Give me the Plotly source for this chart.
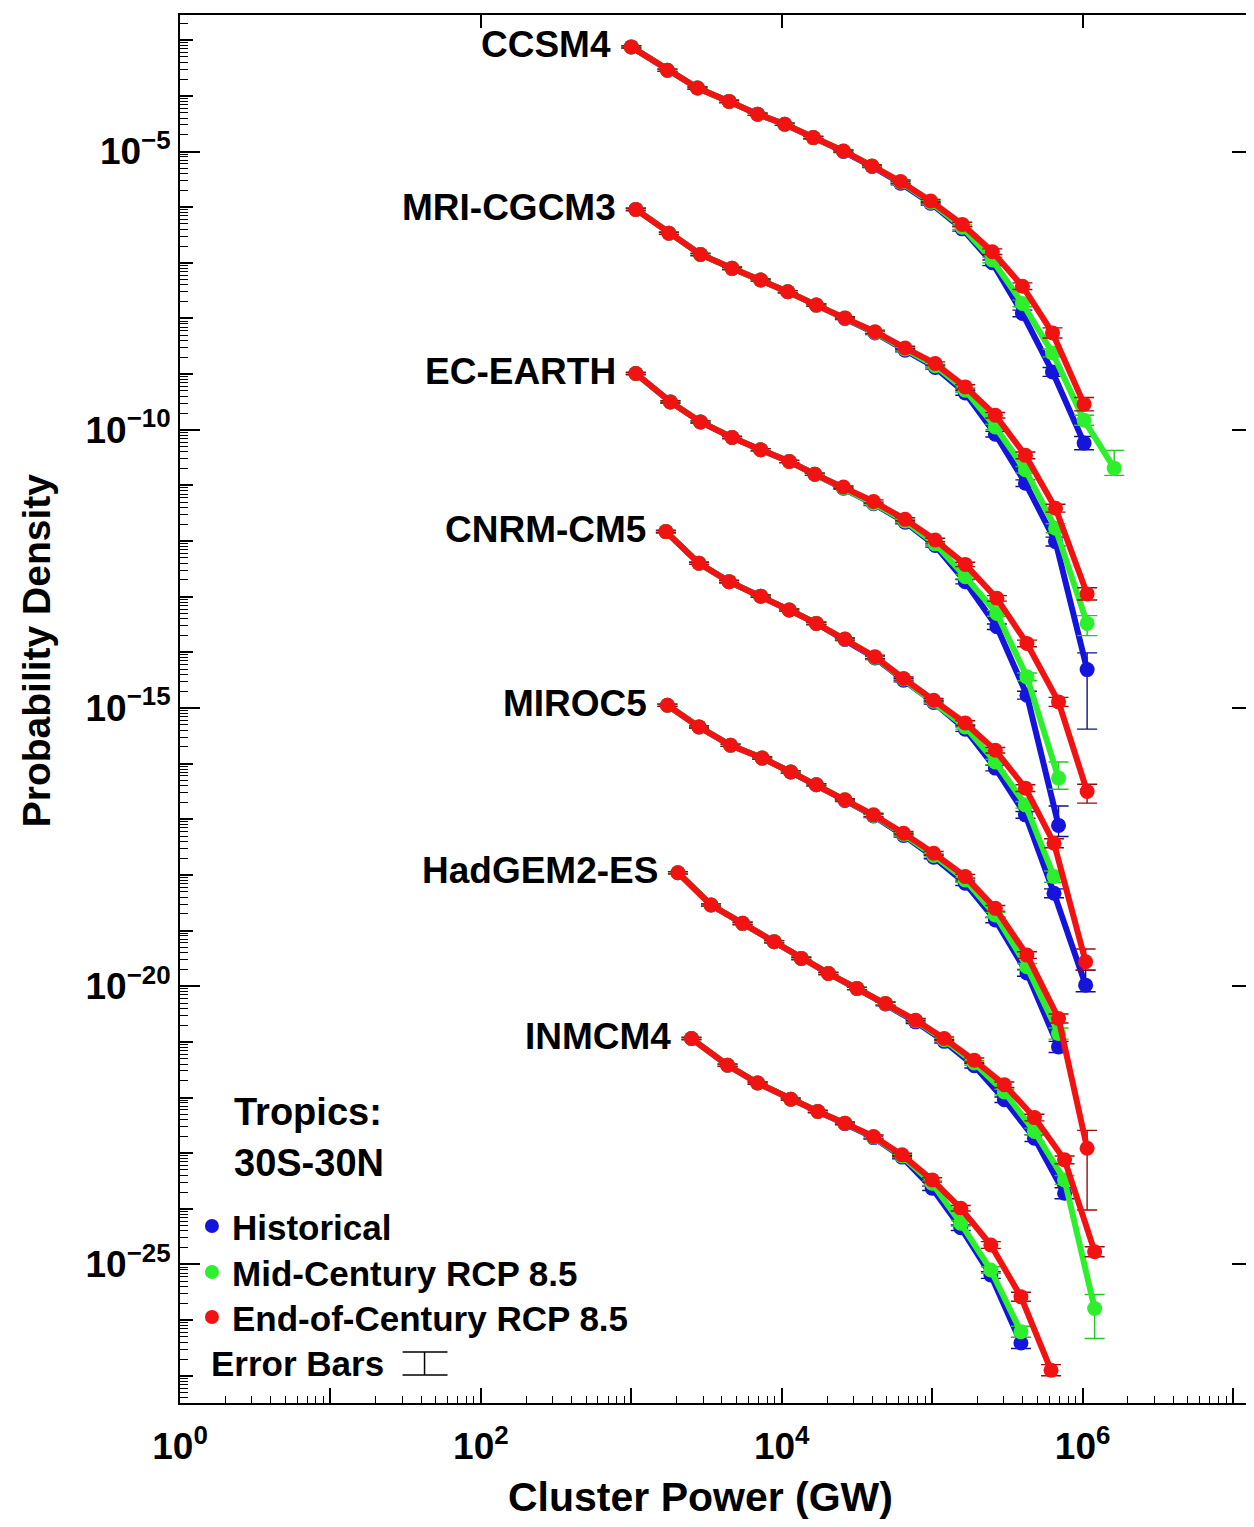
import numpy as np
import plotly.graph_objects as go

# ---------------- data (log10 values) ----------------
model_names = ["CCSM4", "MRI-CGCM3", "EC-EARTH", "CNRM-CM5", "MIROC5", "HadGEM2-ES", "INMCM4"]
scenario_names = ["Historical", "Mid-Century RCP 8.5", "End-of-Century RCP 8.5"]

# log10(cluster power, GW)
ccsm4_logx = [3.00, 3.24, 3.44, 3.65, 3.84, 4.02, 4.21, 4.41, 4.60, 4.79, 4.99, 5.20, 5.40, 5.60, 5.80, 6.01, 6.21]
mri_logx = [3.03, 3.25, 3.46, 3.67, 3.86, 4.04, 4.23, 4.42, 4.62, 4.82, 5.02, 5.22, 5.42, 5.62, 5.82, 6.03]
ec_logx = [3.03, 3.26, 3.46, 3.67, 3.86, 4.05, 4.22, 4.41, 4.61, 4.82, 5.02, 5.22, 5.43, 5.63, 5.84, 6.03]
cnrm_logx = [3.23, 3.45, 3.65, 3.86, 4.05, 4.23, 4.42, 4.62, 4.81, 5.01, 5.22, 5.42, 5.62, 5.81, 6.02]
miroc5_logx = [3.24, 3.45, 3.66, 3.87, 4.06, 4.23, 4.42, 4.61, 4.81, 5.01, 5.22, 5.42, 5.63, 5.84, 6.03]
hadgem_logx = [3.31, 3.53, 3.74, 3.95, 4.13, 4.31, 4.50, 4.69, 4.89, 5.08, 5.28, 5.48, 5.68, 5.88, 6.08]
inmcm4_logx = [3.40, 3.64, 3.84, 4.06, 4.24, 4.42, 4.61, 4.80, 5.00, 5.19, 5.39, 5.59, 5.79]

# log10(probability density) as plotted (curves offset per model)
ccsm4_hist = [-3.12, -3.54, -3.86, -4.10, -4.33, -4.51, -4.75, -5.00, -5.27, -5.57, -5.93, -6.39, -7.00, -7.91, -8.96, -10.24]
ccsm4_mid = [-3.12, -3.54, -3.86, -4.10, -4.33, -4.51, -4.75, -4.99, -5.26, -5.55, -5.91, -6.36, -6.95, -7.73, -8.62, -9.83, -10.69]
ccsm4_end = [-3.12, -3.54, -3.86, -4.10, -4.33, -4.51, -4.75, -4.99, -5.26, -5.54, -5.89, -6.31, -6.80, -7.42, -8.26, -9.54]

mri_hist = [-6.04, -6.47, -6.85, -7.10, -7.31, -7.52, -7.76, -8.00, -8.26, -8.57, -8.88, -9.34, -10.08, -10.96, -12.01, -14.31]
mri_mid = [-6.04, -6.47, -6.85, -7.10, -7.31, -7.52, -7.76, -7.99, -8.25, -8.55, -8.85, -9.29, -9.95, -10.72, -11.77, -13.48]
mri_end = [-6.04, -6.47, -6.85, -7.10, -7.31, -7.52, -7.76, -7.99, -8.24, -8.53, -8.81, -9.23, -9.74, -10.46, -11.41, -12.95]

ec_hist = [-8.99, -9.50, -9.86, -10.14, -10.36, -10.57, -10.80, -11.05, -11.33, -11.66, -12.08, -12.73, -13.54, -14.77, -17.11]
ec_mid = [-8.99, -9.50, -9.86, -10.14, -10.36, -10.57, -10.80, -11.04, -11.32, -11.64, -12.05, -12.64, -13.30, -14.44, -16.26]
ec_end = [-8.99, -9.50, -9.86, -10.14, -10.36, -10.57, -10.80, -11.03, -11.29, -11.61, -11.98, -12.42, -13.03, -13.84, -14.89, -16.50]

cnrm_hist = [-11.83, -12.40, -12.73, -12.99, -13.24, -13.48, -13.77, -14.10, -14.50, -14.90, -15.38, -16.08, -16.92, -18.33, -19.98]
cnrm_mid = [-11.83, -12.40, -12.73, -12.99, -13.24, -13.48, -13.76, -14.09, -14.48, -14.88, -15.34, -15.97, -16.74, -18.03]
cnrm_end = [-11.83, -12.40, -12.73, -12.99, -13.24, -13.48, -13.76, -14.08, -14.47, -14.86, -15.27, -15.76, -16.44, -17.43, -19.56]

miroc5_hist = [-14.95, -15.34, -15.67, -15.90, -16.15, -16.38, -16.66, -16.94, -17.29, -17.68, -18.15, -18.81, -19.76, -21.09]
miroc5_mid = [-14.95, -15.34, -15.67, -15.90, -16.15, -16.38, -16.65, -16.93, -17.27, -17.65, -18.09, -18.72, -19.65, -20.85]
miroc5_end = [-14.95, -15.34, -15.67, -15.90, -16.15, -16.38, -16.65, -16.92, -17.25, -17.61, -18.03, -18.60, -19.44, -20.58, -22.91]

hadgem_hist = [-17.96, -18.54, -18.87, -19.20, -19.50, -19.77, -20.04, -20.32, -20.64, -20.99, -21.43, -22.04, -22.73, -23.72]
hadgem_mid = [-17.96, -18.54, -18.87, -19.20, -19.50, -19.77, -20.04, -20.31, -20.62, -20.96, -21.38, -21.90, -22.61, -23.48, -25.79]
hadgem_end = [-17.96, -18.54, -18.87, -19.20, -19.50, -19.77, -20.04, -20.31, -20.61, -20.94, -21.33, -21.77, -22.36, -23.12, -24.77]

inmcm4_hist = [-20.94, -21.42, -21.74, -22.03, -22.25, -22.47, -22.72, -23.07, -23.63, -24.34, -25.19, -26.41]
inmcm4_mid = [-20.94, -21.42, -21.74, -22.03, -22.25, -22.46, -22.71, -23.05, -23.54, -24.26, -25.10, -26.21]
inmcm4_end = [-20.94, -21.42, -21.74, -22.03, -22.25, -22.46, -22.70, -23.03, -23.48, -23.99, -24.65, -25.58, -26.90]

# error bar half-extents, in decades (upper; lower given separately when asymmetric)
ccsm4_hist_err = [0.02, 0.02, 0.02, 0.02, 0.02, 0.02, 0.02, 0.02, 0.02, 0.03, 0.03, 0.04, 0.05, 0.06, 0.08, 0.12]
ccsm4_mid_err = [0.02, 0.02, 0.02, 0.02, 0.02, 0.02, 0.02, 0.02, 0.02, 0.03, 0.03, 0.04, 0.05, 0.06, 0.07, 0.09, 0.32]
ccsm4_mid_err_lo = [0.02, 0.02, 0.02, 0.02, 0.02, 0.02, 0.02, 0.02, 0.02, 0.03, 0.03, 0.04, 0.05, 0.06, 0.07, 0.09, 0.13]
ccsm4_end_err = [0.02, 0.02, 0.02, 0.02, 0.02, 0.02, 0.02, 0.02, 0.02, 0.03, 0.03, 0.04, 0.05, 0.06, 0.09, 0.12]

mri_hist_err = [0.02, 0.02, 0.02, 0.02, 0.02, 0.02, 0.02, 0.02, 0.03, 0.03, 0.03, 0.04, 0.05, 0.06, 0.08, 0.30]
mri_hist_err_lo = [0.02, 0.02, 0.02, 0.02, 0.02, 0.02, 0.02, 0.02, 0.03, 0.03, 0.03, 0.04, 0.05, 0.06, 0.08, 1.07]
mri_mid_err = [0.02, 0.02, 0.02, 0.02, 0.02, 0.02, 0.02, 0.02, 0.03, 0.03, 0.03, 0.04, 0.05, 0.06, 0.08, 0.14]
mri_mid_err_lo = [0.02, 0.02, 0.02, 0.02, 0.02, 0.02, 0.02, 0.02, 0.03, 0.03, 0.03, 0.04, 0.05, 0.06, 0.08, 0.22]
mri_end_err = [0.02, 0.02, 0.02, 0.02, 0.02, 0.02, 0.02, 0.02, 0.03, 0.03, 0.03, 0.04, 0.05, 0.06, 0.07, 0.11]

ec_hist_err = [0.02, 0.02, 0.02, 0.02, 0.02, 0.02, 0.02, 0.02, 0.03, 0.03, 0.03, 0.04, 0.05, 0.07, 0.35]
ec_hist_err_lo = [0.02, 0.02, 0.02, 0.02, 0.02, 0.02, 0.02, 0.02, 0.03, 0.03, 0.03, 0.04, 0.05, 0.07, 0.20]
ec_mid_err = [0.02, 0.02, 0.02, 0.02, 0.02, 0.02, 0.02, 0.02, 0.03, 0.03, 0.03, 0.04, 0.05, 0.07, 0.29]
ec_mid_err_lo = [0.02, 0.02, 0.02, 0.02, 0.02, 0.02, 0.02, 0.02, 0.03, 0.03, 0.03, 0.04, 0.05, 0.07, 0.20]
ec_end_err = [0.02, 0.02, 0.02, 0.02, 0.02, 0.02, 0.02, 0.02, 0.03, 0.03, 0.03, 0.04, 0.05, 0.06, 0.08, 0.13]
ec_end_err_lo = [0.02, 0.02, 0.02, 0.02, 0.02, 0.02, 0.02, 0.02, 0.03, 0.03, 0.03, 0.04, 0.05, 0.06, 0.08, 0.21]

cnrm_hist_err = [0.02, 0.02, 0.02, 0.02, 0.02, 0.02, 0.02, 0.03, 0.03, 0.03, 0.04, 0.05, 0.06, 0.08, 0.27]
cnrm_hist_err_lo = [0.02, 0.02, 0.02, 0.02, 0.02, 0.02, 0.02, 0.03, 0.03, 0.03, 0.04, 0.05, 0.06, 0.08, 0.12]
cnrm_mid_err = [0.02, 0.02, 0.02, 0.02, 0.02, 0.02, 0.02, 0.03, 0.03, 0.03, 0.04, 0.05, 0.06, 0.10]
cnrm_end_err = [0.02, 0.02, 0.02, 0.02, 0.02, 0.02, 0.02, 0.03, 0.03, 0.03, 0.04, 0.05, 0.06, 0.08, 0.23]
cnrm_end_err_lo = [0.02, 0.02, 0.02, 0.02, 0.02, 0.02, 0.02, 0.03, 0.03, 0.03, 0.04, 0.05, 0.06, 0.08, 0.15]

miroc5_hist_err = [0.02, 0.02, 0.02, 0.02, 0.02, 0.02, 0.02, 0.03, 0.03, 0.03, 0.04, 0.05, 0.06, 0.10]
miroc5_mid_err = [0.02, 0.02, 0.02, 0.02, 0.02, 0.02, 0.02, 0.03, 0.03, 0.03, 0.04, 0.05, 0.06, 0.10]
miroc5_end_err = [0.02, 0.02, 0.02, 0.02, 0.02, 0.02, 0.02, 0.03, 0.03, 0.03, 0.04, 0.05, 0.06, 0.08, 0.32]
miroc5_end_err_lo = [0.02, 0.02, 0.02, 0.02, 0.02, 0.02, 0.02, 0.03, 0.03, 0.03, 0.04, 0.05, 0.06, 0.08, 1.11]

hadgem_hist_err = [0.02, 0.02, 0.02, 0.02, 0.02, 0.02, 0.02, 0.03, 0.03, 0.03, 0.04, 0.05, 0.06, 0.10]
hadgem_mid_err = [0.02, 0.02, 0.02, 0.02, 0.02, 0.02, 0.02, 0.03, 0.03, 0.03, 0.04, 0.05, 0.06, 0.08, 0.25]
hadgem_mid_err_lo = [0.02, 0.02, 0.02, 0.02, 0.02, 0.02, 0.02, 0.03, 0.03, 0.03, 0.04, 0.05, 0.06, 0.08, 0.54]
hadgem_end_err = [0.02, 0.02, 0.02, 0.02, 0.02, 0.02, 0.02, 0.03, 0.03, 0.03, 0.04, 0.05, 0.06, 0.07, 0.09]

inmcm4_hist_err = [0.02, 0.02, 0.02, 0.02, 0.02, 0.02, 0.03, 0.03, 0.04, 0.05, 0.06, 0.10]
inmcm4_mid_err = [0.02, 0.02, 0.02, 0.02, 0.02, 0.02, 0.03, 0.03, 0.04, 0.05, 0.06, 0.10]
inmcm4_end_err = [0.02, 0.02, 0.02, 0.02, 0.02, 0.02, 0.03, 0.03, 0.04, 0.05, 0.06, 0.08, 0.10]

y_tick_exponents = [-25, -20, -15, -10, -5]
x_tick_exponents = [0, 2, 4, 6]

# ---------------- styling ----------------
BLUE = "#1414dc"
GREEN = "#2cf02c"
RED = "#f21212"
ERR_COLORS = ["#10108a", "#22c822", "#9a0c0c"]
FONT = "Liberation Sans"

# The page body has an 8px margin; the figure is sized so that it fits the window.
W, H = 1246, 1519
ML, MR, MT, MB = 172, 0, 7, 124
PW, PH = W - ML - MR, H - MT - MB          # 1074 x 1388
X_RANGE = [0.0, 7.126]
Y_RANGE = [-27.489, -2.547]

# page-pixel -> paper coordinates (plot area spans page x 180..1254, y 15..1403)
def px2paper(px, py):
    return (px - 180) / PW, (1403 - py) / PH


fig = go.Figure()

models = [
    ("CCSM4", ccsm4_logx,
     (ccsm4_hist, ccsm4_hist_err, None),
     (ccsm4_mid, ccsm4_mid_err, ccsm4_mid_err_lo),
     (ccsm4_end, ccsm4_end_err, None)),
    ("MRI-CGCM3", mri_logx,
     (mri_hist, mri_hist_err, mri_hist_err_lo),
     (mri_mid, mri_mid_err, mri_mid_err_lo),
     (mri_end, mri_end_err, None)),
    ("EC-EARTH", ec_logx,
     (ec_hist, ec_hist_err, ec_hist_err_lo),
     (ec_mid, ec_mid_err, ec_mid_err_lo),
     (ec_end, ec_end_err, ec_end_err_lo)),
    ("CNRM-CM5", cnrm_logx,
     (cnrm_hist, cnrm_hist_err, cnrm_hist_err_lo),
     (cnrm_mid, cnrm_mid_err, None),
     (cnrm_end, cnrm_end_err, cnrm_end_err_lo)),
    ("MIROC5", miroc5_logx,
     (miroc5_hist, miroc5_hist_err, None),
     (miroc5_mid, miroc5_mid_err, None),
     (miroc5_end, miroc5_end_err, miroc5_end_err_lo)),
    ("HadGEM2-ES", hadgem_logx,
     (hadgem_hist, hadgem_hist_err, None),
     (hadgem_mid, hadgem_mid_err, hadgem_mid_err_lo),
     (hadgem_end, hadgem_end_err, None)),
    ("INMCM4", inmcm4_logx,
     (inmcm4_hist, inmcm4_hist_err, None),
     (inmcm4_mid, inmcm4_mid_err, None),
     (inmcm4_end, inmcm4_end_err, None)),
]

colors = [BLUE, GREEN, RED]
for s_idx in range(3):
    for name, logx, *series in models:
        logy, err_hi, err_lo = series[s_idx]
        if err_lo is None:
            err_lo = err_hi
        y = 10.0 ** np.asarray(logy)
        x = 10.0 ** np.asarray(logx[:len(logy)])
        up = y * (10.0 ** np.asarray(err_hi) - 1.0)
        dn = y * (1.0 - 10.0 ** (-np.asarray(err_lo)))
        c = colors[s_idx]
        fig.add_trace(go.Scatter(
            x=x, y=y, mode="lines+markers",
            name=f"{name} {scenario_names[s_idx]}",
            line=dict(color=c, width=6),
            marker=dict(color=c, size=15, line=dict(width=0)),
            error_y=dict(type="data", symmetric=False, array=up, arrayminus=dn,
                         color=ERR_COLORS[s_idx], thickness=1.4, width=10),
            showlegend=False, cliponaxis=False,
        ))

# ---------------- model labels ----------------
annotations = []
for name, logx, *series in models:
    end_y = series[2][0]
    annotations.append(dict(
        x=logx[0], y=end_y[0], xref="x", yref="y",
        text=name, showarrow=False, xanchor="right", yanchor="middle",
        xshift=-18, yshift=2,
        font=dict(family=FONT, size=37, color="black", weight="bold"),
    ))

# region text
for txt, py in [("Tropics:", 1112), ("30S-30N", 1163)]:
    xp, yp = px2paper(232, py)
    annotations.append(dict(x=xp, y=yp, xref="paper", yref="paper", text=txt,
                            showarrow=False, xanchor="left", yanchor="middle",
                            font=dict(family=FONT, size=38, color="black", weight="bold")))

# legend
shapes = []
legend_rows = [(scenario_names[0], BLUE, 1226), (scenario_names[1], GREEN, 1272), (scenario_names[2], RED, 1317)]
for txt, col, py in legend_rows:
    x0, y0 = px2paper(212 - 7, py + 7)
    x1, y1 = px2paper(212 + 7, py - 7)
    shapes.append(dict(type="circle", xref="paper", yref="paper", x0=x0, y0=y0, x1=x1, y1=y1,
                       fillcolor=col, line=dict(width=0)))
    xp, yp = px2paper(230, py + 1)
    annotations.append(dict(x=xp, y=yp, xref="paper", yref="paper", text=txt,
                            showarrow=False, xanchor="left", yanchor="middle",
                            font=dict(family=FONT, size=35, color="black", weight="bold")))
xp, yp = px2paper(209, 1363)
annotations.append(dict(x=xp, y=yp, xref="paper", yref="paper", text="Error Bars",
                        showarrow=False, xanchor="left", yanchor="middle",
                        font=dict(family=FONT, size=35, color="black", weight="bold")))
for (ax, ay, bx, by) in [(425, 1352, 425, 1375), (403, 1352, 448, 1352), (403, 1375, 448, 1375)]:
    x0, y0 = px2paper(ax, ay)
    x1, y1 = px2paper(bx, by)
    shapes.append(dict(type="line", xref="paper", yref="paper", x0=x0, y0=y0, x1=x1, y1=y1,
                       line=dict(color="black", width=1.5)))

# axis titles
xp, yp = px2paper(36, 650)
annotations.append(dict(x=xp, y=yp, xref="paper", yref="paper", text="Probability Density",
                        showarrow=False, textangle=-90, xanchor="center", yanchor="middle",
                        font=dict(family=FONT, size=39, color="black", weight="bold")))
xp, yp = px2paper(701, 1497)
annotations.append(dict(x=xp, y=yp, xref="paper", yref="paper", text="Cluster Power (GW)",
                        showarrow=False, xanchor="center", yanchor="middle",
                        font=dict(family=FONT, size=41, color="black", weight="bold")))

# ---------------- axes ----------------
x_decades = [10.0 ** k for k in range(0, 8)]
x_minor = [m * 10.0 ** k for k in range(0, 8) for m in range(2, 10)]
y_decades = [10.0 ** k for k in range(-27, -2)]
y_minor = [m * 10.0 ** k for k in range(-28, -2) for m in range(2, 10)]

tickfont = dict(family=FONT, size=37, color="black", weight="bold")

fig.update_layout(
    width=W, height=H,
    margin=dict(l=ML, r=MR, t=MT, b=MB, pad=0),
    paper_bgcolor="white", plot_bgcolor="white",
    showlegend=False,
    xaxis=dict(type="log", range=X_RANGE, showgrid=False, zeroline=False,
               showline=True, linecolor="black", linewidth=2,
               ticks="inside", tickmode="array", tickvals=x_decades, ticklen=15,
               tickwidth=1.5, tickcolor="black", showticklabels=False,
               minor=dict(ticks="inside", tickmode="array", tickvals=x_minor, ticklen=7,
                          tickwidth=1.2, tickcolor="black", showgrid=False)),
    xaxis2=dict(type="log", range=X_RANGE, overlaying="x", anchor="y", side="bottom",
                showgrid=False, zeroline=False, showline=True, linecolor="black", linewidth=2,
                mirror="ticks", ticks="inside", tickmode="array",
                tickvals=[10.0 ** e for e in x_tick_exponents],
                ticktext=[f"10<sup>{e}</sup>" for e in x_tick_exponents],
                ticklen=13, tickwidth=1.5, tickcolor="black", tickfont=tickfont,
                ticklabelstandoff=10),
    yaxis=dict(type="log", range=Y_RANGE, showgrid=False, zeroline=False,
               showline=True, linecolor="black", linewidth=2,
               ticks="inside", tickmode="array", tickvals=y_decades, ticklen=13,
               tickwidth=1.5, tickcolor="black", showticklabels=False,
               minor=dict(ticks="inside", tickmode="array", tickvals=y_minor, ticklen=8,
                          tickwidth=1.2, tickcolor="black", showgrid=False)),
    yaxis2=dict(type="log", range=Y_RANGE, overlaying="y", anchor="x", side="left",
                showgrid=False, zeroline=False, showline=True, linecolor="black", linewidth=2,
                mirror="ticks", ticks="inside", tickmode="array",
                tickvals=[10.0 ** e for e in y_tick_exponents],
                ticktext=[f"10<sup>\u2212{-e}</sup>" for e in y_tick_exponents],
                ticklen=20, tickwidth=1.5, tickcolor="black", tickfont=tickfont),
    annotations=annotations,
    shapes=shapes,
)

# dummy trace to activate the overlay axes
fig.add_trace(go.Scatter(x=[None], y=[None], xaxis="x2", yaxis="y2", showlegend=False, hoverinfo="skip"))

fig.write_html("out.html")
